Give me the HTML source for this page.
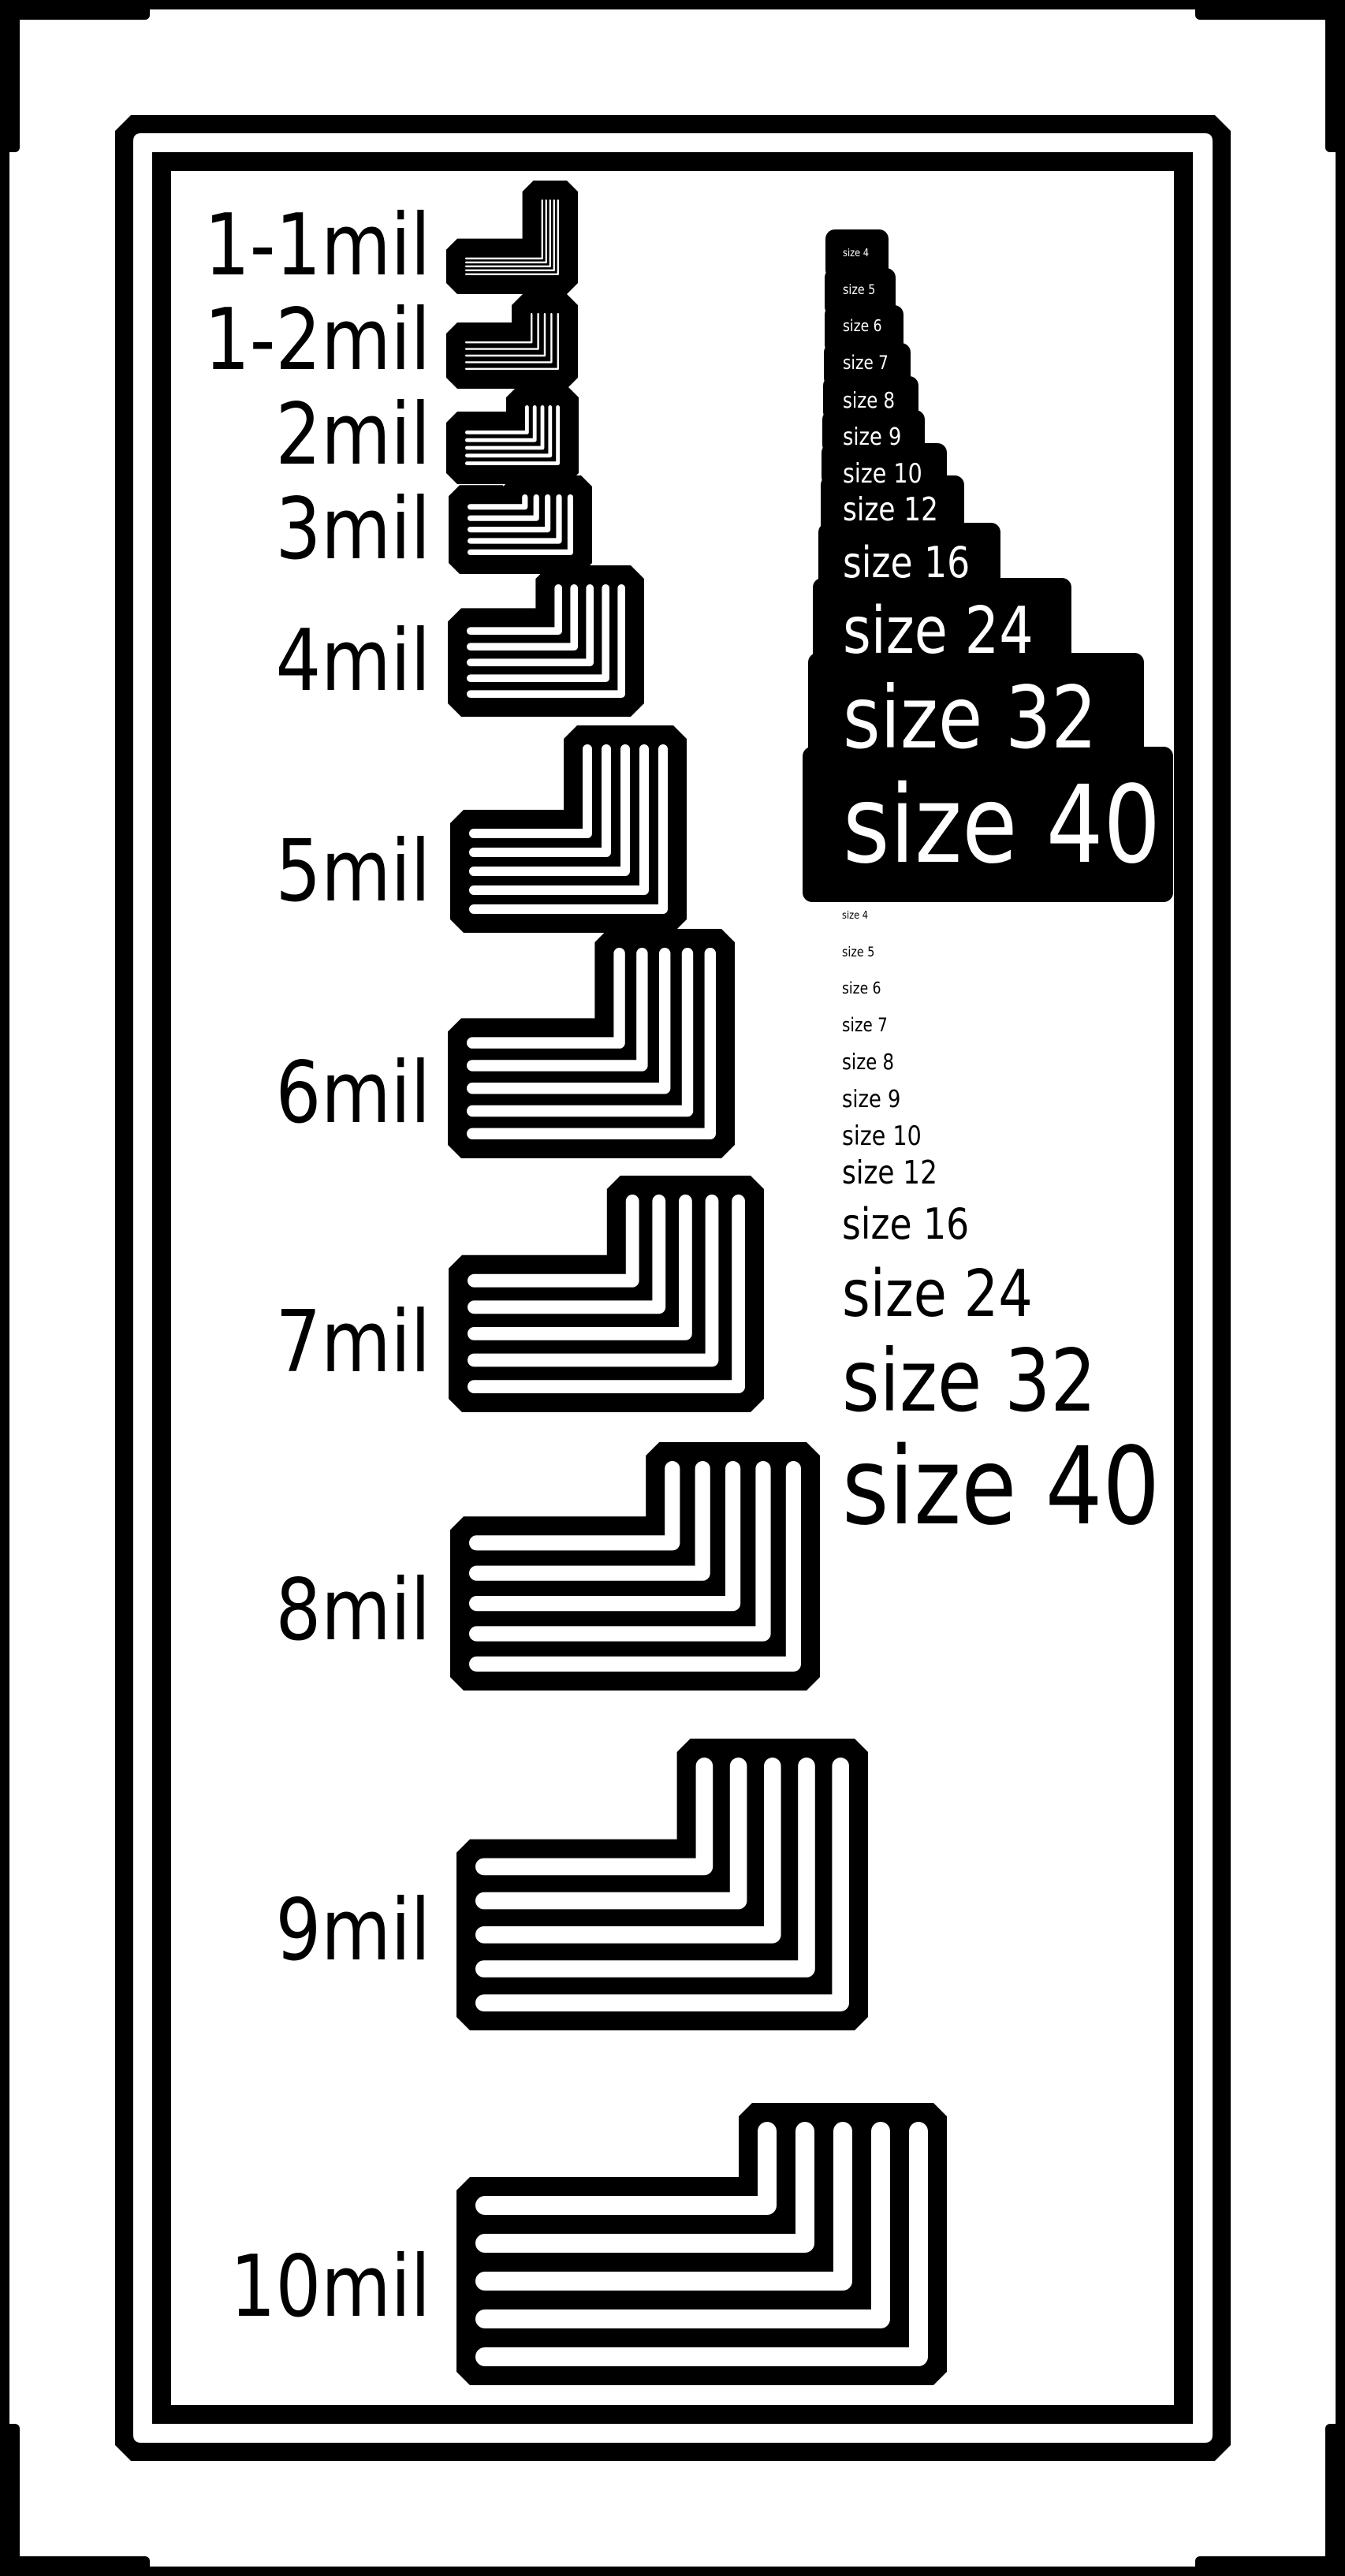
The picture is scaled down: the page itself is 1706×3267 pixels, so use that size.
<!DOCTYPE html>
<html>
<head>
<meta charset="utf-8">
<style>
  html, body { margin:0; padding:0; background:#fff; }
  body { width:1706px; height:3267px; overflow:hidden; }
  svg { display:block; }
  text { font-family: "DejaVu Sans", "Liberation Sans", sans-serif; }
</style>
</head>
<body>
<svg id="board" xmlns="http://www.w3.org/2000/svg" width="1706" height="3267" viewBox="0 0 1706 3267">
  <g fill="#000">
    <rect x="0" y="0" width="1706" height="12"/>
    <rect x="0" y="3255" width="1706" height="12"/>
    <rect x="0" y="0" width="12" height="3267"/>
    <rect x="1694" y="0" width="12" height="3267"/>
    <rect x="0" y="0" width="190" height="25" rx="6"/>
    <rect x="0" y="0" width="25" height="193" rx="6"/>
    <rect x="1516" y="0" width="190" height="25" rx="6"/>
    <rect x="1681" y="0" width="25" height="193" rx="6"/>
    <rect x="0" y="3242" width="190" height="25" rx="6"/>
    <rect x="0" y="3074" width="25" height="193" rx="6"/>
    <rect x="1516" y="3242" width="190" height="25" rx="6"/>
    <rect x="1681" y="3074" width="25" height="193" rx="6"/>
  </g>
  <path fill="#000" fill-rule="evenodd"
    d="M166,146 L1541,146 L1561,166 L1561,3101 L1541,3121 L166,3121 L146,3101 L146,166 Z
       M179,169 L1528,169 Q1538,169 1538,179 L1538,3088 Q1538,3098 1528,3098 L179,3098 Q169,3098 169,3088 L169,179 Q169,169 179,169 Z"/>
  <path fill="#000" fill-rule="evenodd"
    d="M193,193 L1513,193 L1513,3074 L193,3074 Z M217,217 L1489,217 L1489,3050 L217,3050 Z"/>
  <g id="patterns"></g>
  <g id="boxes"></g>
  <g id="plain"></g>
</svg>
<script>
// ---- trace pattern data ----
const patternNames = ['1-1mil','1-2mil','2mil','3mil','4mil','5mil','6mil','7mil','8mil','9mil','10mil'];
const traceWidth = [2.4, 2.4, 4.8, 7.2, 9.6, 12, 14.4, 16.8, 19.2, 21.6, 24];
const gapWidth   = [2.6, 6.0, 5.0, 7.2, 10.4, 12, 14.4, 16.8, 19.2, 21.6, 24];
const blobLeft   = [566, 566, 566, 569, 568, 571, 568, 569, 571, 579, 579];
const blobRight  = [733, 733, 734, 751, 817, 871, 932, 969, 1040, 1101, 1201];
const blobTop    = [229, 373, 490, 603, 717, 920, 1178, 1491, 1829, 2205, 2667];
const blobBottom = [373, 493, 614, 728, 909, 1183, 1469, 1791, 2144, 2575, 3025];
const labelBaseline = [348, 468, 588, 708, 875, 1142, 1423, 1739, 2079, 2485, 2937];

// ---- text sample data ----
const sampleSizes = [4, 5, 6, 7, 8, 9, 10, 12, 16, 24, 32, 40];
const boxLeft   = [1047, 1046, 1046, 1045, 1044, 1043, 1042, 1041, 1038, 1031, 1025, 1018];
const boxTop    = [291, 340, 387, 435, 477, 520, 562, 603, 663, 733, 828, 947];
const boxRight  = [1127, 1136, 1146, 1155, 1165, 1173, 1201, 1223, 1269, 1359, 1451, 1488];
const boxEnd    = 1144;
const boxBaseline   = [325, 373, 420, 468, 517, 564, 612, 660, 732, 828, 948, 1093];
const plainBaseline = [1165, 1213, 1260, 1308, 1356, 1404, 1452, 1501, 1571, 1669, 1789, 1932];

const NS = 'http://www.w3.org/2000/svg';
const MARGIN = 24, CH = 17, N = 5, SQ = 0.84, LABEL_X = 546;

function mk(tag, attrs, parent) {
  const e = document.createElementNS(NS, tag);
  for (const k in attrs) e.setAttribute(k, attrs[k]);
  parent.appendChild(e);
  return e;
}

const pg = document.getElementById('patterns');
const blobLayer = mk('g', {}, pg);


const traceLayer = mk('g', {}, pg);


const labelLayer = mk('g', {}, pg);



patternNames.forEach((name, i) => {
  const L = blobLeft[i], R = blobRight[i], T = blobTop[i], B = blobBottom[i];
  const w = traceWidth[i], p = traceWidth[i] + gapWidth[i];
  const span = w + (N - 1) * p;
  const hTop = B - 2 * MARGIN - span;
  const vLeft = R - 2 * MARGIN - span;
  const c = i < 4 ? 14 : CH;
  const pts = [[L, hTop + c], [L + c, hTop], [vLeft, hTop], [vLeft, T + c], [vLeft + c, T],
    [R - c, T], [R, T + c], [R, B - c], [R - c, B], [L + c, B], [L, B - c]];
  const blob = mk('polygon', {points: pts.map(q => q.join(',')).join(' '), fill: '#000'}, blobLayer);
  
  

  for (let k = 0; k < N; k++) {
    const y = B - MARGIN - w / 2 - (N - 1 - k) * p;
    const x = R - MARGIN - w / 2 - (N - 1 - k) * p;
    const x0 = L + MARGIN + w / 2;
    const y0 = T + MARGIN + w / 2;
    const tr = mk('polyline', {
      points: x0 + ',' + y + ' ' + x + ',' + y + ' ' + x + ',' + y0,
      fill: 'none', stroke: '#fff', 'stroke-width': w,
      'stroke-linecap': 'round', 'stroke-linejoin': 'round'
    }, traceLayer);
    
    
  }

  const t = mk('text', {
    transform: 'translate(' + LABEL_X + ',' + labelBaseline[i] + ') scale(' + SQ + ',1)',
    'text-anchor': 'end', 'font-size': 108, fill: '#000'
  }, labelLayer);
  t.textContent = name;
  
  
});

const bg = document.getElementById('boxes');
sampleSizes.forEach((n, i) => {
  const last = i === sampleSizes.length - 1;
  const bottom = last ? boxEnd : boxTop[i + 1] + 14;
  const r = mk('rect', {
    x: boxLeft[i], y: boxTop[i], width: boxRight[i] - boxLeft[i],
    height: bottom - boxTop[i], rx: 12, fill: '#000'
  }, bg);
  
  
});
sampleSizes.forEach((n, i) => {
  const t = mk('text', {
    transform: 'translate(1069,' + boxBaseline[i] + ') scale(' + SQ + ',1)',
    'font-size': (3.4 * n).toFixed(1), fill: '#fff'
  }, bg);
  t.textContent = 'size ' + n;
  
  
});

const plg = document.getElementById('plain');
sampleSizes.forEach((n, i) => {
  const t = mk('text', {
    transform: 'translate(1068,' + plainBaseline[i] + ') scale(' + SQ + ',1)',
    'font-size': (3.4 * n).toFixed(1), fill: '#000'
  }, plg);
  t.textContent = 'size ' + n;
  
  
});
</script>
</body>
</html>
